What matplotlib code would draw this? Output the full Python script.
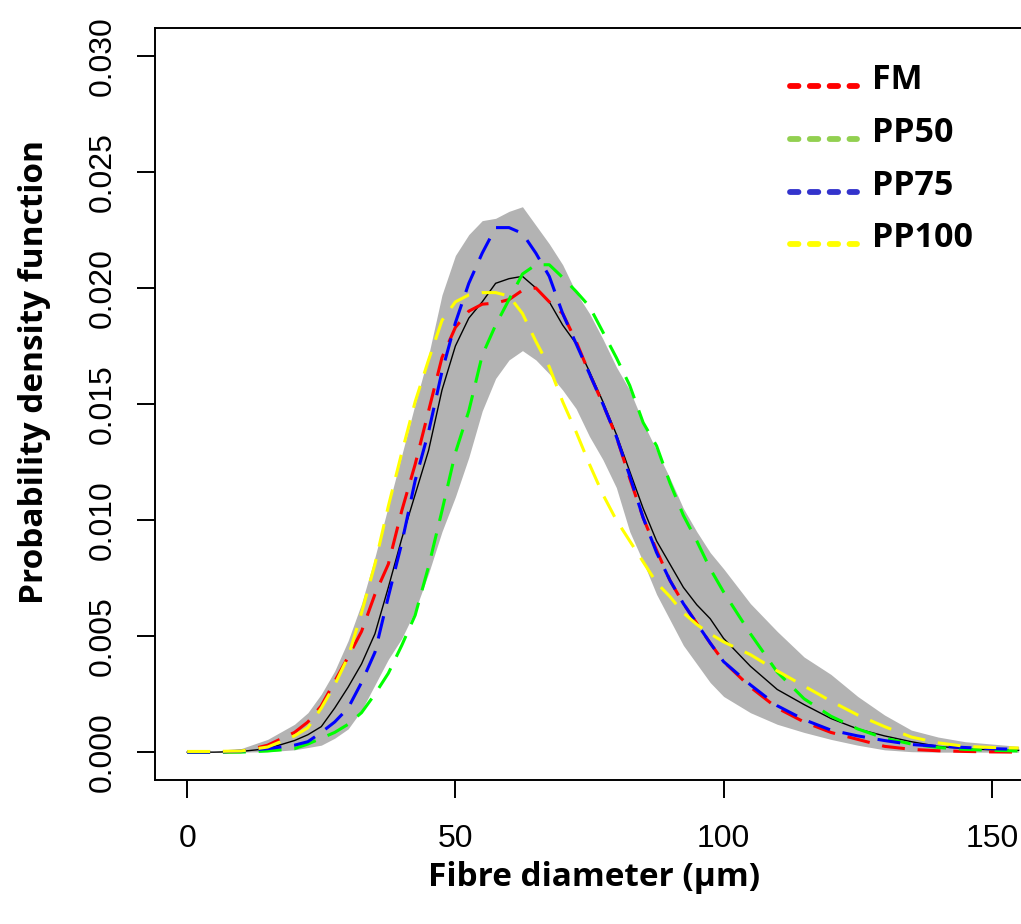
import matplotlib
matplotlib.use('Agg')
import matplotlib.pyplot as plt
from matplotlib.lines import Line2D

# ---- data ----
diam = [0, 5, 10, 15, 20, 22.5, 25, 27.5, 30, 32.5, 35, 37.5, 40, 42.5, 45, 47.5,
        50, 52.5, 55, 57.5, 60, 62.5, 65, 67.5, 70, 72.5, 75, 77.5, 80, 82.5, 85,
        87.5, 90, 92.5, 95, 97.5, 100, 105, 110, 115, 120, 125, 130, 135, 140,
        145, 150, 155]

fm = [0, 0, 0.00002, 0.0003, 0.00085, 0.0013, 0.002, 0.00305, 0.0041, 0.0052,
      0.0068, 0.0081, 0.0104, 0.0124, 0.0147, 0.0170, 0.0183, 0.0190, 0.0193,
      0.01935, 0.0195, 0.0199, 0.0200, 0.0194, 0.0189, 0.0177, 0.0163, 0.0150,
      0.0136, 0.0118, 0.0101, 0.0087, 0.0074, 0.0064, 0.00555, 0.0047, 0.0039,
      0.0028, 0.0019, 0.0013, 0.00085, 0.00055, 0.00025, 0.00012, 0.00006,
      0.00003, 0.00001, 0]

pp50 = [0, 0, 0, 0.00005, 0.00015, 0.00035, 0.0006, 0.00085, 0.0012, 0.0017,
        0.0025, 0.0034, 0.0046, 0.0059, 0.0080, 0.0104, 0.0129, 0.0147, 0.0171,
        0.0184, 0.0195, 0.0206, 0.0210, 0.0210, 0.02045, 0.01985, 0.0192, 0.0181,
        0.0170, 0.0158, 0.0142, 0.0132, 0.0116, 0.0102, 0.0091, 0.0079, 0.0069,
        0.0051, 0.00345, 0.0023, 0.00155, 0.0010, 0.0006, 0.00035, 0.0002,
        0.00012, 0.00008, 0.00005]

pp75 = [0, 0, 0.00005, 0.00015, 0.0003, 0.00045, 0.00085, 0.0013, 0.0019, 0.0030,
        0.0043, 0.0067, 0.0090, 0.0117, 0.0138, 0.0164, 0.0185, 0.0202, 0.0215,
        0.0226, 0.0226, 0.02235, 0.0215, 0.0205, 0.0189, 0.0176, 0.0163, 0.0150,
        0.0136, 0.0119, 0.0101, 0.0086, 0.0074, 0.0064, 0.00555, 0.0047, 0.0039,
        0.0029, 0.0020, 0.0014, 0.00095, 0.0007, 0.0005, 0.00033, 0.00025,
        0.0002, 0.00015, 0.00012]

pp100 = [0.00003, 0.00003, 0.00005, 0.00022, 0.0007, 0.00105, 0.0019, 0.0029,
         0.0041, 0.0060, 0.0081, 0.0106, 0.0129, 0.0151, 0.0169, 0.0186, 0.0194,
         0.0197, 0.0198, 0.0198, 0.01965, 0.0189, 0.0177, 0.0166, 0.0151, 0.0138,
         0.0124, 0.0111, 0.0100, 0.0091, 0.0082, 0.0073, 0.0067, 0.0060, 0.0055,
         0.0051, 0.00475, 0.0042, 0.0035, 0.00285, 0.0022, 0.0016, 0.0011,
         0.00065, 0.0004, 0.00025, 0.0002, 0.00018]

mean_pdf = [0, 0, 0.00003, 0.00015, 0.0005, 0.00075, 0.0011, 0.0019, 0.0028,
            0.0038, 0.0051, 0.0071, 0.0092, 0.0111, 0.0130, 0.0156, 0.0175,
            0.0187, 0.0194, 0.0202, 0.0204, 0.0205, 0.0200, 0.0194, 0.0184,
            0.0176, 0.0164, 0.0151, 0.0137, 0.0121, 0.0105, 0.0091, 0.0081,
            0.0071, 0.00635, 0.00575, 0.0049, 0.0037, 0.0027, 0.00205, 0.00145,
            0.0010, 0.0007, 0.00045, 0.00025, 0.00015, 0.0001, 0.00008]

band_upper = [0, 0, 0.00015, 0.00055, 0.0012, 0.0017, 0.0025, 0.0035, 0.0048,
              0.0064, 0.0084, 0.0106, 0.0128, 0.0150, 0.0171, 0.0197, 0.0214,
              0.0223, 0.0229, 0.0230, 0.0233, 0.0235, 0.0227, 0.0219, 0.0210,
              0.0198, 0.0189, 0.0178, 0.0166, 0.0156, 0.0142, 0.0130, 0.0118,
              0.0105, 0.0095, 0.0086, 0.0079, 0.0064, 0.0052, 0.0041, 0.00335,
              0.0024, 0.0016, 0.00095, 0.00065, 0.00045, 0.00035, 0.00025]

band_lower = [0, 0, 0, 0.00002, 0.0001, 0.0002, 0.0003, 0.0006, 0.0010, 0.0018,
              0.0029, 0.0040, 0.0049, 0.0061, 0.0077, 0.0095, 0.0110, 0.0127,
              0.0147, 0.0161, 0.0169, 0.0173, 0.0169, 0.0163, 0.0156, 0.0148,
              0.0136, 0.0126, 0.0114, 0.0095, 0.0082, 0.0068, 0.0057, 0.0046,
              0.0038, 0.0030, 0.0024, 0.0017, 0.0012, 0.00085, 0.00055, 0.0003,
              0.0001, 0.00002, 0, 0, 0, 0]

series_names = ['FM', 'PP50', 'PP75', 'PP100']
series_values = [fm, pp50, pp75, pp100]
plot_colors = ['#ff0000', '#00ff00', '#0000ff', '#ffff00']
legend_colors = ['#ff0000', '#92d050', '#3333cc', '#ffff00']

xticks = [0, 50, 100, 150]
yticks = [0.000, 0.005, 0.010, 0.015, 0.020, 0.025, 0.030]
ytick_labels = ['0.000', '0.005', '0.010', '0.015', '0.020', '0.025', '0.030']

W, H = 1021, 924
fig = plt.figure(figsize=(W / 100, H / 100), dpi=100)
ax = fig.add_axes([155 / W, 144 / H, (1024 - 155) / W, (780 - 28) / H])

ax.fill_between(diam, band_lower, band_upper, color='#b3b3b3', lw=0, zorder=1)
ax.plot(diam, mean_pdf, color='black', lw=1.0, zorder=2)
for vals, c in zip(series_values, plot_colors):
    ax.plot(diam, vals, color=c, lw=2.2, dashes=(7.5, 4.2), zorder=3)

ax.set_xlim(-6, 156)
ax.set_ylim(-0.0012, 0.0312)
ax.set_xticks(xticks)
ax.set_xticklabels([str(t) for t in xticks])
ax.set_yticks(yticks)
ax.set_yticklabels(ytick_labels, rotation=90, va='center')
for lab in ax.get_xticklabels() + ax.get_yticklabels():
    lab.set_family('Liberation Sans')
    lab.set_color('black')
    lab.set_fontsize(23)
ax.tick_params(axis='both', direction='out', length=13, width=1.4, colors='black')
ax.tick_params(axis='x', pad=18.5)
ax.tick_params(axis='y', pad=14)
for s in ['top', 'left', 'bottom', 'right']:
    ax.spines[s].set_linewidth(1.4)
    ax.spines[s].set_color('black')

lab_font = dict(family='Open Sans', fontweight='bold', fontsize=24, color='black')
fig.text(35 / W, 1 - 372 / H, 'Probability density function', rotation=90,
         ha='center', va='center', **lab_font)
fig.text(594 / W, 1 - 878 / H, 'Fibre diameter (μm)', ha='center', va='center', **lab_font)

# legend (drawn by hand, as in the reference)
base_y = [89, 142, 195, 247]
for name, c, by in zip(series_names, legend_colors, base_y):
    ly = 1 - (by - 3) / H
    fig.add_artist(Line2D([790 / W, 857 / W], [ly, ly], transform=fig.transFigure,
                          color=c, lw=4.2, dashes=(1.45, 1.95), dash_capstyle='round'))
    fig.text(872 / W, 1 - by / H, name, ha='left', va='baseline',
             family='Open Sans', fontweight='bold', fontsize=24.5, color='black')

fig.savefig('out.png', dpi=100)
